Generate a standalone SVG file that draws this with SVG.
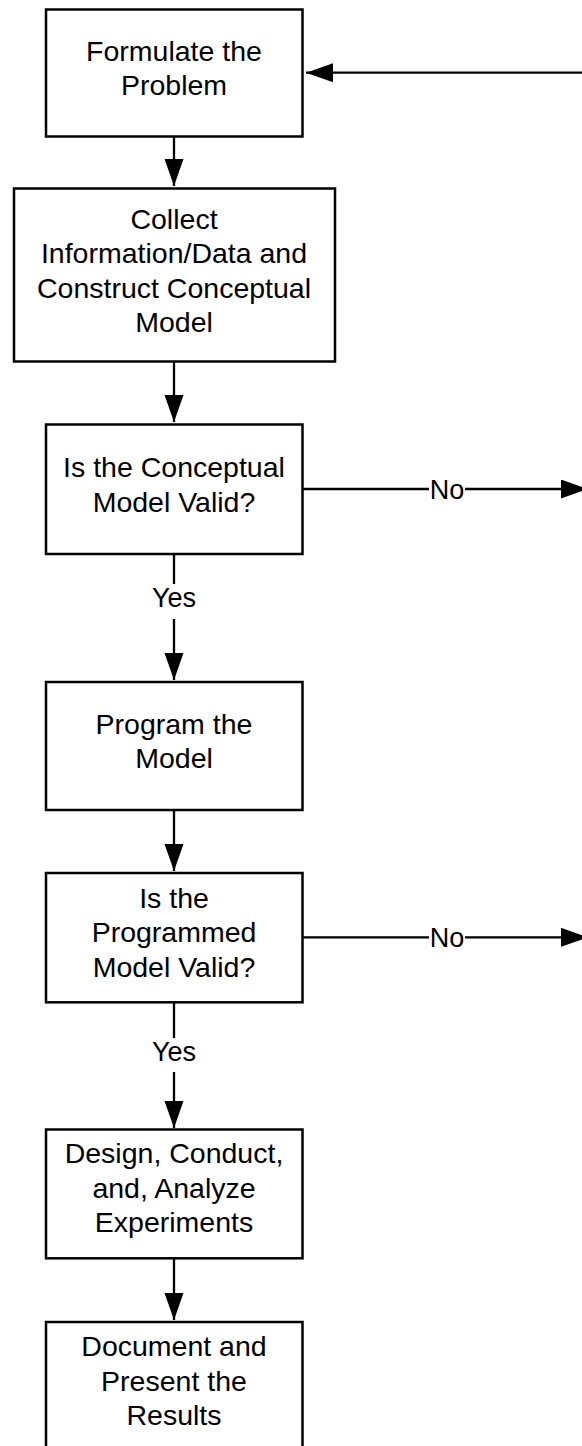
<svg xmlns="http://www.w3.org/2000/svg" width="582" height="1446" viewBox="0 0 582 1446">
  <style>
    .box { fill: #ffffff; stroke: #000000; stroke-width: 2.5; }
    .txt { font-family: "Liberation Sans", Arial, sans-serif; font-size: 28.5px; fill: #000000; text-anchor: middle; }
    .lbl { font-family: "Liberation Sans", Arial, sans-serif; font-size: 27px; fill: #000000; text-anchor: middle; }
    .edge { fill: none; stroke: #000000; stroke-width: 2.3; }
    .lblbg { fill: #ffffff; stroke: none; }
  </style>
  <defs>
    <marker id="arrow" markerUnits="userSpaceOnUse" markerWidth="28" markerHeight="20" refX="27" refY="9.5" orient="auto">
      <path d="M0,0 L27,9.5 L0,19 Z" fill="#000000"/>
    </marker>
  </defs>
  <rect width="582" height="1446" fill="#ffffff"/>

  <!-- connectors -->
  <g id="connectors">
    <line class="edge" x1="582" y1="72.7" x2="306" y2="72.7" marker-end="url(#arrow)"/>
    <line class="edge" x1="174" y1="136.7" x2="174" y2="186" marker-end="url(#arrow)"/>
    <line class="edge" x1="174" y1="361.7" x2="174" y2="422" marker-end="url(#arrow)"/>
    <line class="edge" x1="302.5" y1="489" x2="588" y2="489" marker-end="url(#arrow)"/>
    <line class="edge" x1="174" y1="554" x2="174" y2="680" marker-end="url(#arrow)"/>
    <line class="edge" x1="174" y1="810" x2="174" y2="871" marker-end="url(#arrow)"/>
    <line class="edge" x1="302.5" y1="937.3" x2="588" y2="937.3" marker-end="url(#arrow)"/>
    <line class="edge" x1="174" y1="1002.3" x2="174" y2="1128" marker-end="url(#arrow)"/>
    <line class="edge" x1="174" y1="1258.3" x2="174" y2="1320" marker-end="url(#arrow)"/>
    <!-- edge labels on white backing -->
    <rect class="lblbg" x="429" y="474" width="36" height="30"/>
    <text class="lbl" x="447" y="499">No</text>
    <rect class="lblbg" x="429" y="922" width="36" height="30"/>
    <text class="lbl" x="447" y="947">No</text>
    <rect class="lblbg" x="148" y="584" width="52" height="35"/>
    <text class="lbl" x="174" y="607">Yes</text>
    <rect class="lblbg" x="148" y="1038" width="52" height="34"/>
    <text class="lbl" x="174" y="1061">Yes</text>
  </g>

  <g id="formulate">
    <rect class="box" x="46" y="9.5" width="256.5" height="127"/>
    <text class="txt" x="174" y="61">Formulate the</text>
    <text class="txt" x="174" y="95">Problem</text>
  </g>

  <g id="collect">
    <rect class="box" x="14" y="188.5" width="321" height="173"/>
    <text class="txt" x="174" y="229">Collect</text>
    <text class="txt" x="174" y="263">Information/Data and</text>
    <text class="txt" x="174" y="298">Construct Conceptual</text>
    <text class="txt" x="174" y="332">Model</text>
  </g>

  <g id="conceptual-valid">
    <rect class="box" x="46" y="424.5" width="256.5" height="129.5"/>
    <text class="txt" x="174" y="477.3">Is the Conceptual</text>
    <text class="txt" x="174" y="511.7">Model Valid?</text>
  </g>

  <g id="program">
    <rect class="box" x="46" y="682" width="256.5" height="128"/>
    <text class="txt" x="174" y="734">Program the</text>
    <text class="txt" x="174" y="768.3">Model</text>
  </g>

  <g id="programmed-valid">
    <rect class="box" x="46" y="873" width="256.5" height="129.3"/>
    <text class="txt" x="174" y="908.3">Is the</text>
    <text class="txt" x="174" y="942">Programmed</text>
    <text class="txt" x="174" y="976.7">Model Valid?</text>
  </g>

  <g id="experiments">
    <rect class="box" x="46" y="1129.5" width="256.5" height="128.8"/>
    <text class="txt" x="174" y="1163.3">Design, Conduct,</text>
    <text class="txt" x="174" y="1198.3">and, Analyze</text>
    <text class="txt" x="174" y="1231.7">Experiments</text>
  </g>

  <g id="document">
    <rect class="box" x="46" y="1322" width="256.5" height="140"/>
    <text class="txt" x="174" y="1356">Document and</text>
    <text class="txt" x="174" y="1390.7">Present the</text>
    <text class="txt" x="174" y="1425">Results</text>
  </g>
</svg>
